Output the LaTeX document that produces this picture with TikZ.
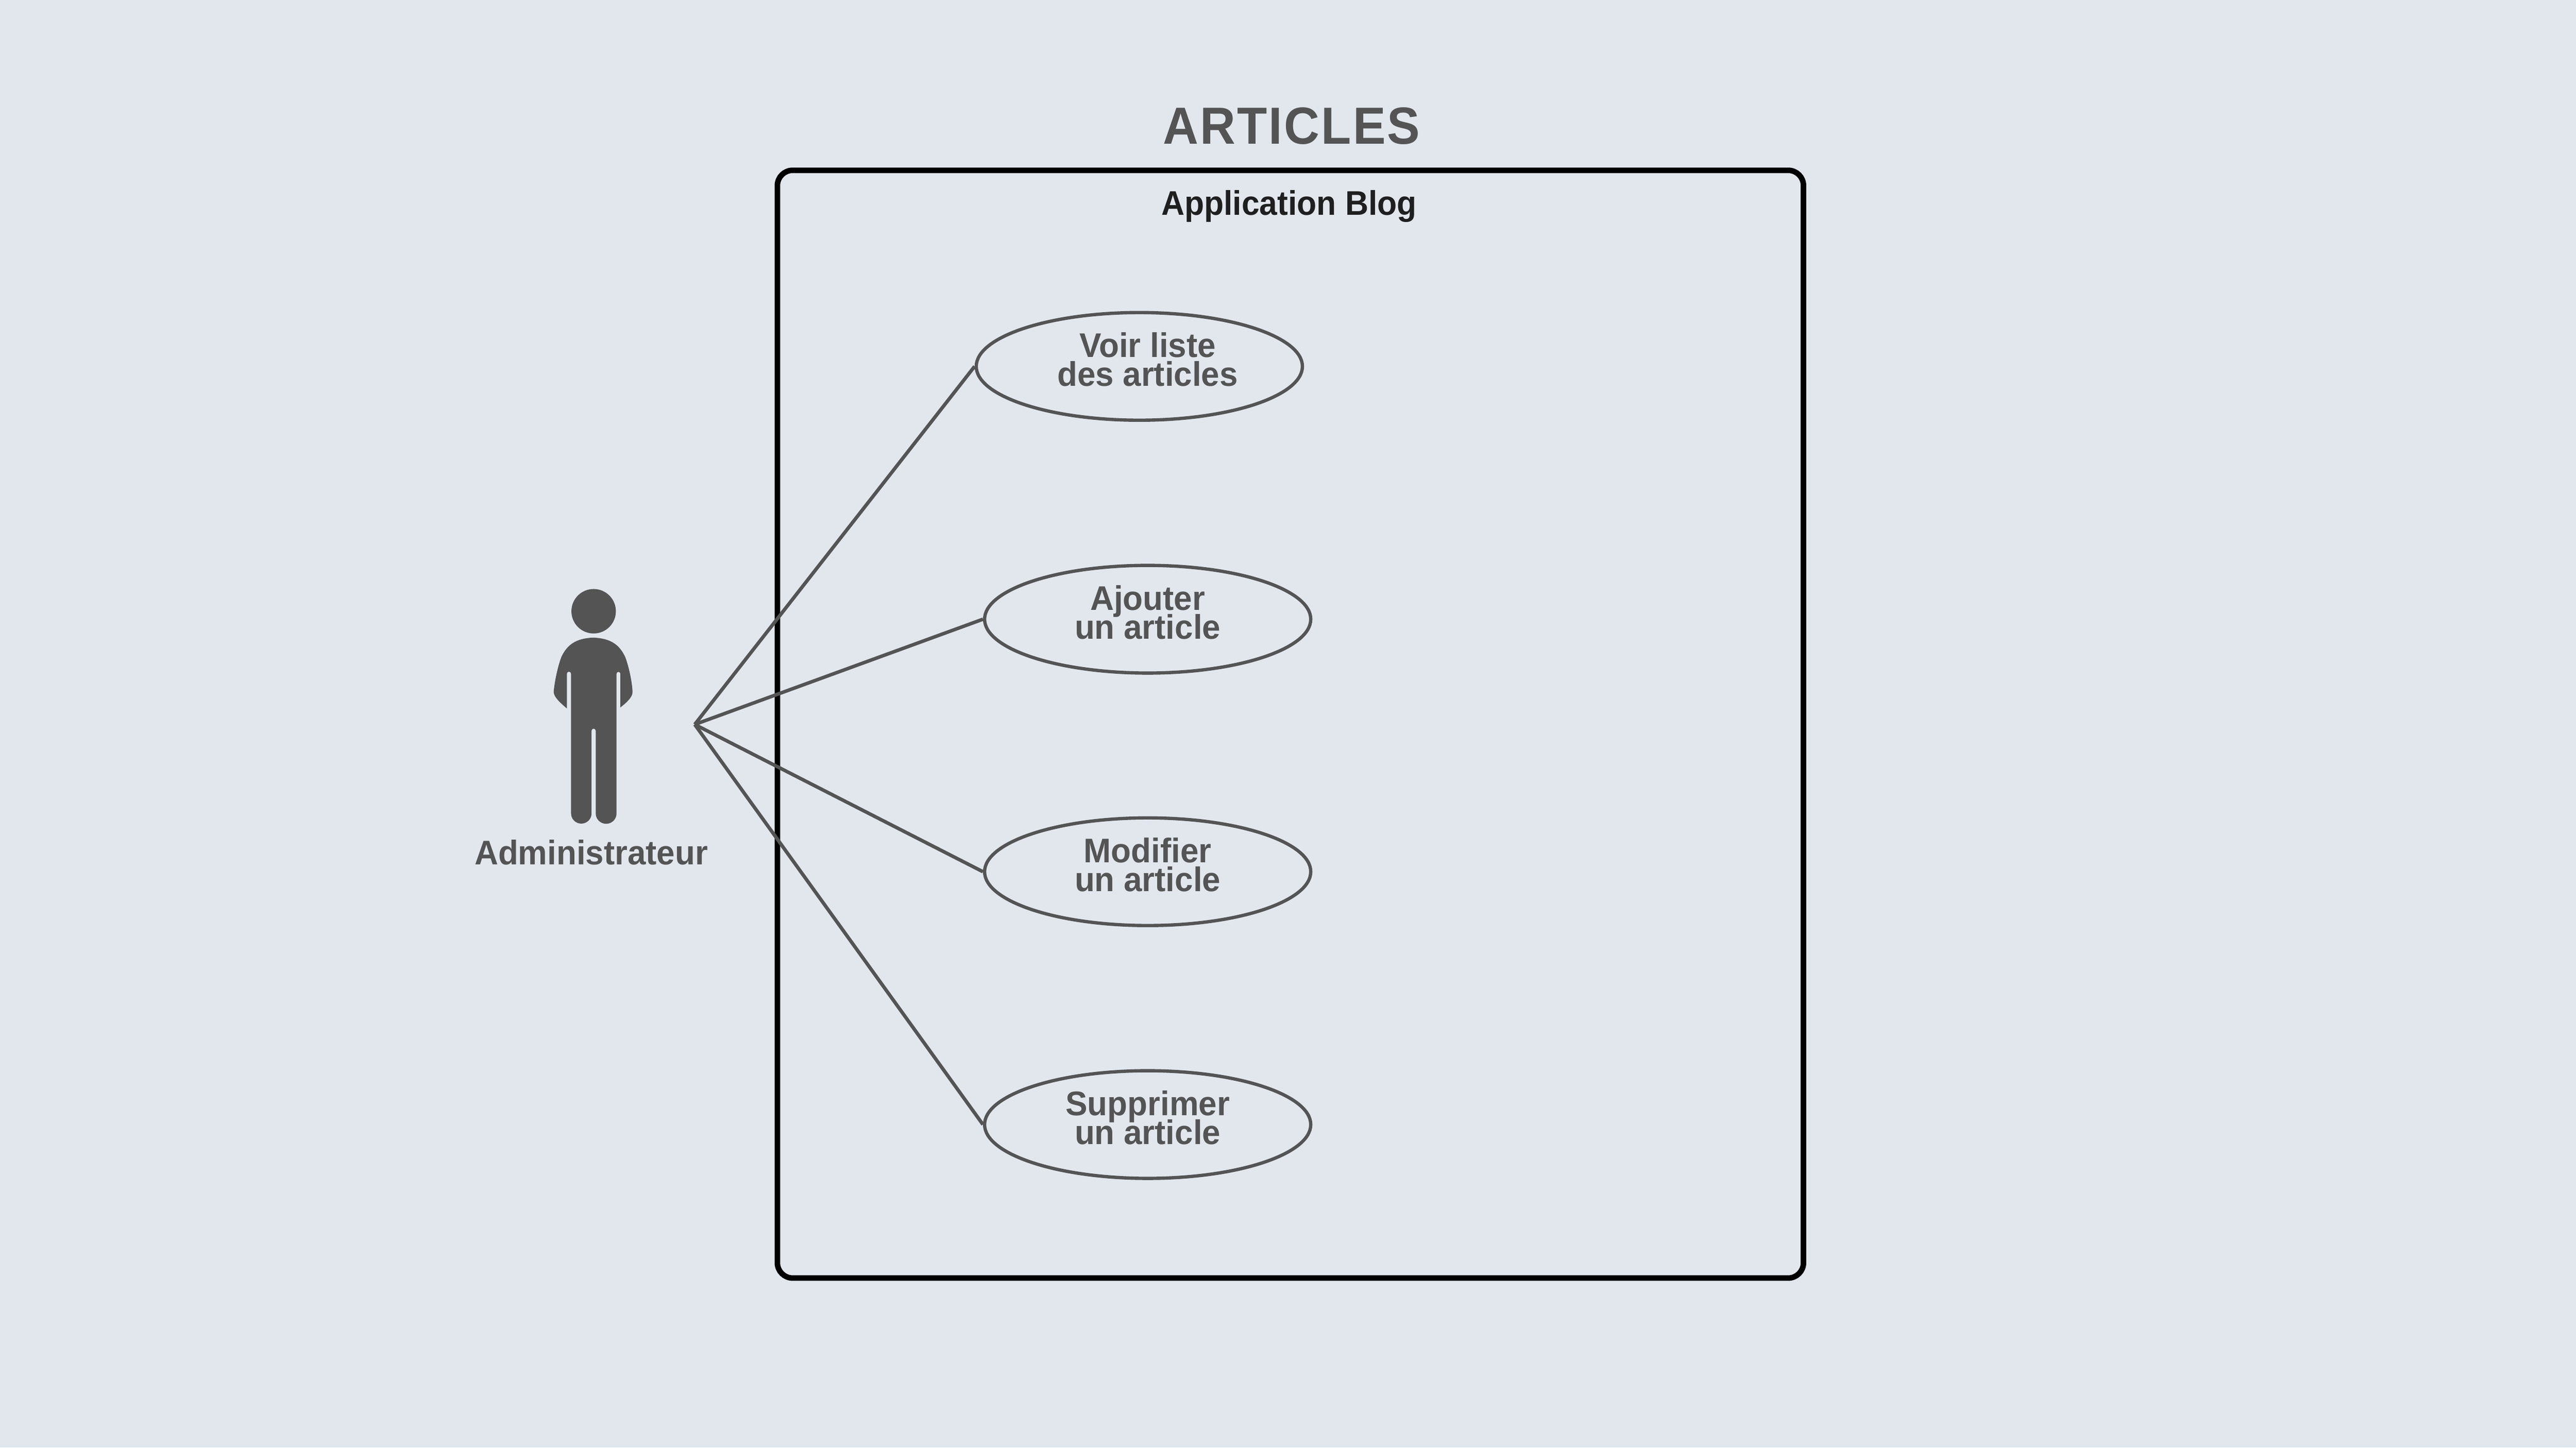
\documentclass[tikz,border=0pt]{standalone}
\usepackage{fontspec}
\usetikzlibrary{shapes.geometric}
\setmainfont[FakeStretch=0.94]{Liberation Sans}
\newfontfamily\titlefont[FakeStretch=0.94,LetterSpace=3.2]{Liberation Sans}
\newfontfamily\casefont[FakeStretch=0.96]{Liberation Sans}
\definecolor{bgcol}{HTML}{E2E7EE}
\definecolor{inkcol}{HTML}{545454}
\definecolor{darkcol}{HTML}{1F1F1F}
\begin{document}
\begin{tikzpicture}[
labeltext/.style={text=inkcol, font=\casefont\bfseries\fontsize{14}{11.8}\selectfont, align=center, inner sep=0pt, execute at begin node={\lineskiplimit=-20pt\relax}},
usecase/.style={ellipse, draw=inkcol, line width=1.35pt, minimum width=4.695cm, minimum height=1.55cm, inner sep=0pt},
assoc/.style={draw=inkcol, line width=1.42pt},
]

% Background and system box
\fill[bgcol] (0,0) rectangle (37.08,20.84);
\useasboundingbox (0,0) rectangle (37.08,20.84);
\node[draw=black, line width=2.27pt, rounded corners=0.22cm, minimum width=14.77cm, minimum height=15.9475cm, inner sep=0pt] (systembox) at (18.575,10.414) {};

% Titles
\node[text=inkcol, font=\titlefont\bfseries\fontsize{21.4}{24}\selectfont, inner sep=0pt, anchor=base] (title) at (18.59,18.77) {ARTICLES};
\node[text=darkcol, font=\bfseries\fontsize{14}{14}\selectfont, inner sep=0pt, anchor=base] (appname) at (18.555,17.74) {Application Blog};

% Actor
\fill[inkcol] (8.545,12.04) circle (0.32);
\fill[inkcol] (8.54,11.66)
  .. controls (8.28,11.65) and (8.16,11.55) .. (8.08,11.38)
  .. controls (8.02,11.22) and (7.98,11.0) .. (7.97,10.88)
  .. controls (7.97,10.80) and (8.08,10.71) .. (8.16,10.64)
  -- (8.16,11.14) arc (180:0:0.03)
  -- (8.22,9.13) arc (180:360:0.1475)
  -- (8.515,10.32) arc (180:0:0.03)
  -- (8.575,9.13) arc (180:360:0.15)
  -- (8.875,11.14) arc (180:0:0.0275)
  -- (8.93,10.655)
  .. controls (9.0,10.71) and (9.11,10.80) .. (9.105,10.88)
  .. controls (9.10,11.0) and (9.06,11.22) .. (9.0,11.38)
  .. controls (8.92,11.55) and (8.80,11.65) .. (8.54,11.66) -- cycle;
\node[labeltext, anchor=base] (actorname) at (8.51,8.39) {Administrateur};
\coordinate (actor) at (10,10.41);

% Use cases
\node[usecase] (voir) at (16.40,15.565) {};
\node[usecase] (ajouter) at (16.52,11.925) {};
\node[usecase] (modifier) at (16.52,8.29) {};
\node[usecase] (supprimer) at (16.52,4.65) {};

\node[labeltext, yshift=0.1cm, xshift=0.12cm] (voirtext) at (voir) {Voir liste\\des articles};
\node[labeltext, yshift=0.1cm] (ajoutertext) at (ajouter) {Ajouter\\un article};
\node[labeltext, yshift=0.1cm] (modifiertext) at (modifier) {Modifier\\un article};
\node[labeltext, yshift=0.1cm] (supprimertext) at (supprimer) {Supprimer\\un article};

% Associations
\draw[assoc] (actor) -- (voir.west);
\draw[assoc] (actor) -- (ajouter.west);
\draw[assoc] (actor) -- (modifier.west);
\draw[assoc] (actor) -- (supprimer.west);

\end{tikzpicture}
\end{document}
